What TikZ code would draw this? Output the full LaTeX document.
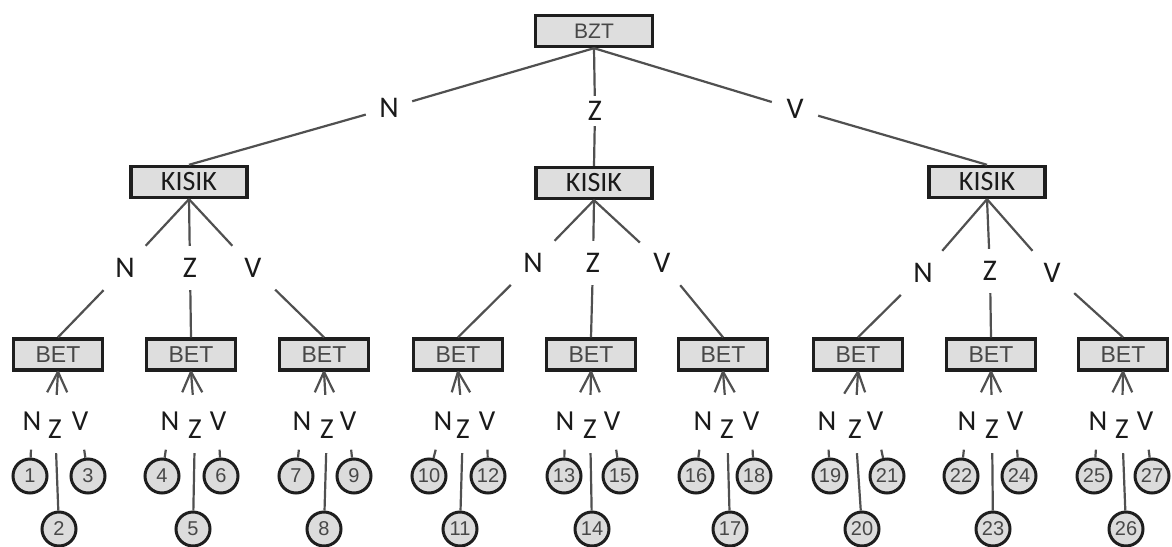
\documentclass[tikz,border=0pt]{standalone}
\usepackage{fontspec}
\setmainfont{Liberation Sans}
\newfontfamily\calfont{Carlito}
\definecolor{boxline}{HTML}{1E1E1E}
\definecolor{boxfill}{HTML}{DEDEDE}
\definecolor{edgecol}{HTML}{505050}
\definecolor{graytext}{HTML}{474747}
\definecolor{leaffill}{HTML}{DCDCDC}
\definecolor{labtext}{HTML}{1A1A1A}
\begin{document}
\begin{tikzpicture}[x=1pt,y=-1pt,
  box/.style={draw=boxline, line width=3.4pt, fill=boxfill, inner sep=0pt, text=graytext},
  bztbox/.style={box, minimum width=117pt, minimum height=31pt, font=\fontsize{21}{21}\selectfont},
  kbox/.style={box, minimum width=116pt, minimum height=31pt, text=labtext, font=\calfont\fontsize{28}{28}\selectfont},
  bbox/.style={box, minimum width=89pt, minimum height=31pt, font=\fontsize{23}{23}\selectfont},
  leaf/.style={circle, draw=boxline, line width=3pt, fill=leaffill, minimum size=34pt, inner sep=0pt, text=graytext, font=\fontsize{20}{20}\selectfont},
  lab1/.style={inner sep=0pt, minimum width=46pt, minimum height=30pt, text=labtext, font=\calfont\fontsize{30}{30}\selectfont},
  lab2/.style={inner sep=0pt, minimum width=44pt, minimum height=44pt, text=labtext, font=\calfont\fontsize{30}{30}\selectfont},
  lab3/.style={inner sep=0pt, minimum width=34pt, minimum height=57pt, text=labtext, font=\calfont\fontsize{29}{29}\selectfont},
  lab3z/.style={inner sep=0pt, minimum width=30pt, text height=43.5pt, text depth=14.5pt, text=labtext, font=\calfont\fontsize{29}{29}\selectfont},
  edge/.style={draw=edgecol, line width=2.2pt}
]
\useasboundingbox[fill=white] (0,0) rectangle (1172,546);

% root and level 1
\node[bztbox] (bzt) at (594,31) {BZT};
\node[kbox] (k1) at (189,182) {KISIK};
\node[kbox] (k2) at (594,183) {KISIK};
\node[kbox] (k3) at (987,182) {KISIK};
\node[lab1] (a1) at (389,108) {N};
\node[lab1] (a2) at (595,111) {Z};
\node[lab1] (a3) at (795,109) {V};
\draw[edge] (bzt.south) -- (a1) -- (k1.north);
\draw[edge] (bzt.south) -- (a2) -- (k2.north);
\draw[edge] (bzt.south) -- (a3) -- (k3.north);

% level 2 (BET boxes)
\foreach \i/\bx in {1/58,2/191,3/324,4/458,5/591,6/723,7/858,8/991,9/1123}
  \node[bbox] (b\i) at (\bx,354.5) {BET};

\foreach \k/\i/\lx/\ly/\t in {
  1/1/125/268/N, 1/2/190/268/Z, 1/3/253/268/V,
  2/4/533/263/N, 2/5/593/263/Z, 2/6/662/263/V,
  3/7/923/273/N, 3/8/990/271/Z, 3/9/1052/273/V}
{
  \node[lab2] (c\i) at (\lx,\ly) {\t};
  \draw[edge] (k\k.south) -- (c\i) -- (b\i.north);
}

% level 3 (leaves)
\foreach \i/\nx/\zx/\vx/\lx/\mx/\rx in {
  1/32/55/80/30/59/88,
  2/170/195/218/162/193/221,
  3/302/327/348/296/324/354,
  4/443/463/487/429/460/488,
  5/565/590/612/564/592/620,
  6/703/727/751/696/730/754,
  7/827/855/875/830/862/887,
  8/967/992/1015/961/993/1019,
  9/1098/1122/1145/1094/1126/1152}
{
  \pgfmathtruncatemacro{\na}{3*\i-2}
  \pgfmathtruncatemacro{\nb}{3*\i-1}
  \pgfmathtruncatemacro{\nc}{3*\i}
  \node[leaf] (o\na) at (\lx,476) {\na};
  \node[leaf] (o\nb) at (\mx,529) {\nb};
  \node[leaf] (o\nc) at (\rx,476) {\nc};
  \node[lab3] (p\i) at (\nx,421) {N};
  \node[lab3z] (q\i) at (\zx,424) {Z};
  \node[lab3] (r\i) at (\vx,421) {V};
  \draw[edge] (b\i.south) -- (p\i) -- (o\na);
  \draw[edge] (b\i.south) -- (q\i) -- (o\nb);
  \draw[edge] (b\i.south) -- (r\i) -- (o\nc);
}
\end{tikzpicture}
\end{document}
